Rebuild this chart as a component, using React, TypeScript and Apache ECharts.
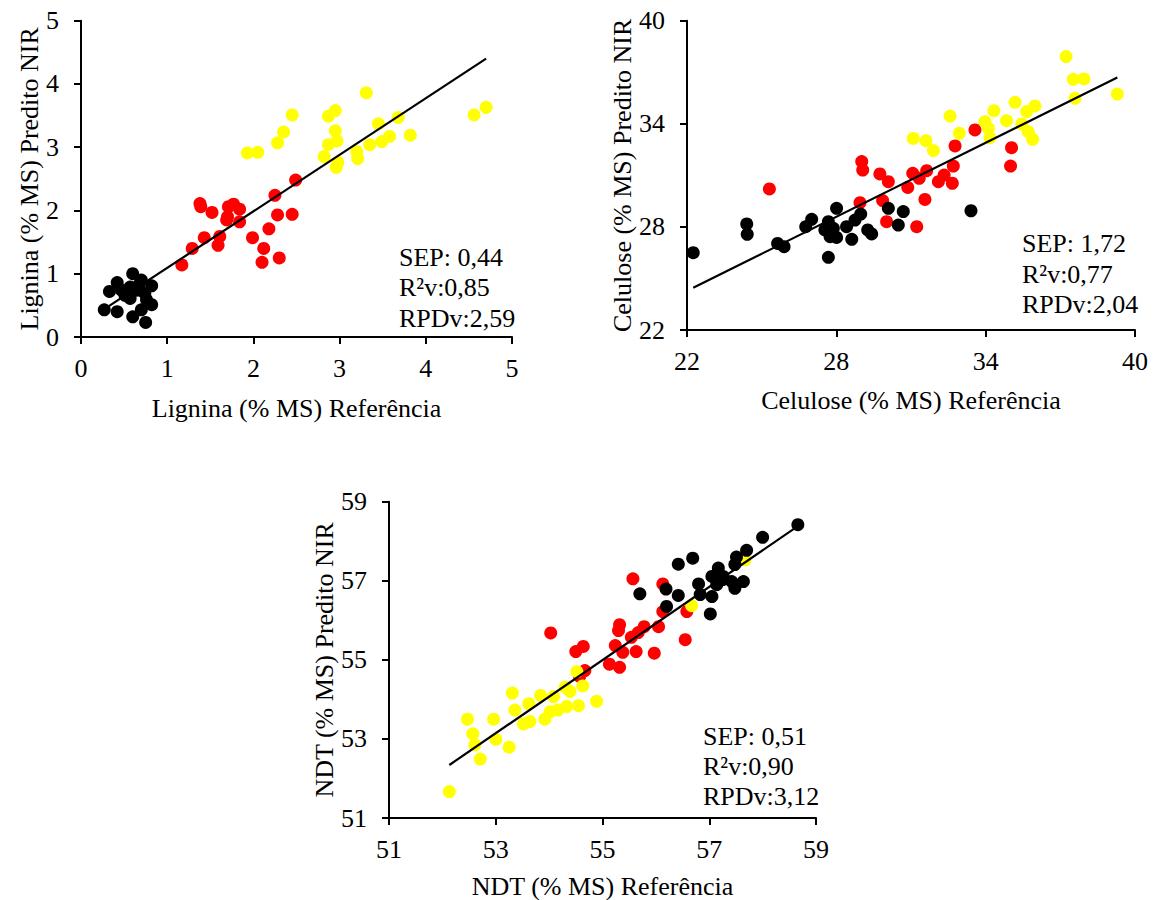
import React, { useEffect, useRef } from "react";
import * as echarts from "echarts";

// ---- Lignina ----
const ligninaTicks = [0, 1, 2, 3, 4, 5];
const ligninaAmarelo = [[3.31,3.86],[4.70,3.63],[4.56,3.51],[2.45,3.51],[2.87,3.49],[2.95,3.58],[3.68,3.47],[3.45,3.37],[2.35,3.24],[2.28,3.07],[2.95,3.26],[2.97,3.10],[2.87,3.04],[3.58,3.17],[3.49,3.09],[3.35,3.04],[3.82,3.19],[1.93,2.91],[2.05,2.92],[3.20,2.93],[3.21,2.82],[2.82,2.85],[2.98,2.76],[2.96,2.68]];
const ligninaVermelho = [[2.49,2.48],[2.25,2.24],[1.38,2.11],[1.39,2.06],[1.52,1.97],[1.71,2.06],[1.77,2.10],[1.84,2.02],[1.69,1.85],[1.84,1.82],[2.28,1.93],[2.45,1.94],[1.43,1.57],[1.61,1.59],[1.59,1.45],[1.99,1.57],[2.18,1.71],[2.12,1.40],[1.29,1.40],[1.17,1.14],[2.10,1.18],[2.30,1.25],[1.70,1.90]];
const ligninaPreto = [[0.60,1.00],[0.70,0.90],[0.42,0.86],[0.33,0.72],[0.82,0.81],[0.57,0.79],[0.65,0.74],[0.74,0.69],[0.51,0.66],[0.57,0.61],[0.67,0.82],[0.82,0.51],[0.70,0.43],[0.27,0.43],[0.42,0.40],[0.60,0.32],[0.75,0.23],[0.47,0.74],[0.76,0.59]];
const ligninaTendencia = [[0.27,0.44],[4.70,4.40]];
const ligninaStats = ["SEP: 0,44", "R²v:0,85", "RPDv:2,59"];

// ---- Celulose ----
const celuloseTicks = [22, 28, 34, 40];
const celuloseAmarelo = [[37.23,37.91],[37.52,36.59],[37.95,36.61],[37.59,35.48],[39.29,35.73],[35.18,35.25],[35.98,35.04],[35.65,34.71],[34.33,34.76],[33.97,34.12],[34.84,34.18],[34.11,33.74],[32.57,34.45],[32.94,33.45],[34.17,33.19],[35.45,33.99],[35.71,33.54],[35.89,33.10],[31.09,33.15],[31.60,33.02],[31.90,32.44]];
const celuloseVermelho = [[33.57,33.64],[32.77,32.71],[35.04,32.61],[35.00,31.54],[29.02,31.80],[29.06,31.31],[25.31,30.21],[29.75,31.08],[30.09,30.63],[31.07,31.12],[31.33,30.83],[31.63,31.27],[32.70,31.54],[32.10,30.63],[32.33,31.02],[32.66,30.54],[30.87,30.30],[31.56,29.60],[28.95,29.41],[29.86,29.53],[30.02,28.30],[31.23,28.01]];
const celulosePreto = [[22.25,26.50],[24.40,28.17],[24.42,27.57],[25.64,27.04],[25.90,26.85],[26.77,28.01],[27.01,28.44],[27.68,28.30],[27.54,27.82],[27.75,27.43],[28.01,27.39],[28.01,29.08],[27.68,26.23],[28.41,28.01],[28.62,27.28],[28.75,28.40],[28.98,28.75],[29.26,27.82],[29.42,27.59],[30.09,29.08],[30.49,28.11],[30.69,28.89],[33.41,28.94],[27.88,27.92]];
const celuloseTendencia = [[22.25,24.46],[39.29,36.70]];
const celuloseStats = ["SEP: 1,72", "R²v:0,77", "RPDv:2,04"];

// ---- NDT ----
const ndtTicks = [51, 53, 55, 57, 59];
const ndtAmarelo = [[52.13,51.67],[52.47,53.50],[52.57,53.13],[52.61,52.85],[52.71,52.49],[52.96,53.50],[53.00,52.99],[53.25,52.79],[53.31,54.16],[53.36,53.73],[53.52,53.38],[53.64,53.44],[53.62,53.89],[53.84,54.10],[53.92,53.50],[54.02,53.69],[54.08,54.07],[54.16,53.73],[54.33,53.82],[54.30,54.31],[54.39,54.20],[54.55,53.84],[54.63,54.34],[54.52,54.70],[54.89,53.95],[56.67,56.37],[57.67,57.53]];
const ndtVermelho = [[54.03,55.68],[55.57,57.05],[56.13,56.92],[56.13,56.22],[56.58,56.22],[56.55,55.51],[56.05,55.84],[55.78,55.84],[55.67,55.69],[55.54,55.57],[55.32,55.89],[55.30,55.74],[55.24,55.36],[55.38,55.19],[55.63,55.21],[55.97,55.17],[55.13,54.89],[55.32,54.81],[54.64,55.34],[54.50,55.21],[54.67,54.73],[54.57,54.58]];
const ndtPreto = [[58.66,58.42],[58.00,58.10],[57.70,57.77],[57.51,57.60],[57.48,57.41],[56.42,57.42],[56.69,57.57],[57.17,57.32],[57.05,57.11],[57.26,57.11],[57.42,56.98],[57.64,56.98],[57.48,56.81],[56.80,56.92],[57.25,57.03],[57.14,56.90],[56.83,56.65],[57.05,56.60],[57.02,56.16],[56.42,56.63],[56.19,56.79],[56.20,56.35],[55.70,56.67]];
const ndtTendencia = [[52.13,52.34],[58.66,58.38]];
const ndtStats = ["SEP: 0,51", "R²v:0,90", "RPDv:3,12"];

const FONT = "'Liberation Serif', 'Times New Roman', serif";
const FS = 26;

function makeAxis(gridIndex: number, ticks: number[], name: string, nameGap: number, isY: boolean) {
  const useInterval = ticks[0] % (ticks[1] - ticks[0]) === 0;
  return {
    type: "value",
    gridIndex,
    min: ticks[0],
    max: ticks[ticks.length - 1],
    ...(useInterval ? { interval: ticks[1] - ticks[0] } : {}),
    name,
    nameLocation: "middle",
    nameGap,
    nameTextStyle: { fontFamily: FONT, fontSize: FS, color: "#000" },
    axisLine: { show: true, onZero: false, lineStyle: { color: "#000", width: 2 } },
    axisTick: { show: true, length: 7, lineStyle: { color: "#000", width: 2 }, customValues: ticks },
    axisLabel: { show: true, color: "#000", fontFamily: FONT, fontSize: FS, margin: isY ? 22 : 18, customValues: ticks },
    splitLine: { show: false },
  };
}

function scatter(idx: number, data: number[][], color: string) {
  return {
    type: "scatter",
    xAxisIndex: idx,
    yAxisIndex: idx,
    data,
    symbol: "circle",
    symbolSize: 13,
    itemStyle: { color, opacity: 1 },
    z: 2,
  };
}

function trend(idx: number, data: number[][]) {
  return {
    type: "line",
    xAxisIndex: idx,
    yAxisIndex: idx,
    data,
    showSymbol: false,
    symbol: "none",
    lineStyle: { color: "#000", width: 2.2 },
    z: 3,
  };
}

function statsText(lines: string[], x: number, y0: number, step: number) {
  return lines.map((t, i) => ({
    type: "text",
    x,
    y: y0 + i * step,
    z: 10,
    style: { text: t, fontFamily: FONT, fontSize: FS, fill: "#000", align: "left", verticalAlign: "middle" },
  }));
}

export default function App() {
  const ref = useRef<HTMLDivElement>(null);
  useEffect(() => {
    if (!ref.current) return;
    const chart = echarts.init(ref.current, undefined, { renderer: "svg" });
    chart.setOption({
      animation: false,
      backgroundColor: "#fff",
      grid: [
        { left: 81, top: 20.7, width: 431, height: 316.3, outerBoundsMode: "none" },
        { left: 687, top: 20.7, width: 448, height: 309.3, outerBoundsMode: "none" },
        { left: 389, top: 501.7, width: 427, height: 316.3, outerBoundsMode: "none" },
      ],
      xAxis: [
        makeAxis(0, ligninaTicks, "Lignina (% MS) Referência", 58, false),
        makeAxis(1, celuloseTicks, "Celulose (% MS) Referência", 57, false),
        makeAxis(2, ndtTicks, "NDT (% MS) Referência", 55, false),
      ],
      yAxis: [
        makeAxis(0, ligninaTicks, "Lignina (% MS) Predito NIR", 38, true),
        makeAxis(1, celuloseTicks, "Celulose (% MS) Predito NIR", 52, true),
        makeAxis(2, ndtTicks, "NDT (% MS) Predito NIR", 51, true),
      ],
      series: [
        scatter(0, ligninaVermelho, "#FF0000"),
        scatter(0, ligninaAmarelo, "#FFFF00"),
        scatter(0, ligninaPreto, "#000000"),
        trend(0, ligninaTendencia),
        scatter(1, celuloseVermelho, "#FF0000"),
        scatter(1, celuloseAmarelo, "#FFFF00"),
        scatter(1, celulosePreto, "#000000"),
        trend(1, celuloseTendencia),
        scatter(2, ndtVermelho, "#FF0000"),
        scatter(2, ndtAmarelo, "#FFFF00"),
        scatter(2, ndtPreto, "#000000"),
        trend(2, ndtTendencia),
      ],
      graphic: [
        ...statsText(ligninaStats, 399, 257, 30.8),
        ...statsText(celuloseStats, 1022, 243.5, 30.5),
        ...statsText(ndtStats, 703, 736.5, 30),
      ],
    });
    return () => chart.dispose();
  }, []);
  return (
    <div
      ref={ref}
      style={{ position: "absolute", left: 0, top: 0, width: 1155, height: 900, background: "#fff" }}
    />
  );
}
